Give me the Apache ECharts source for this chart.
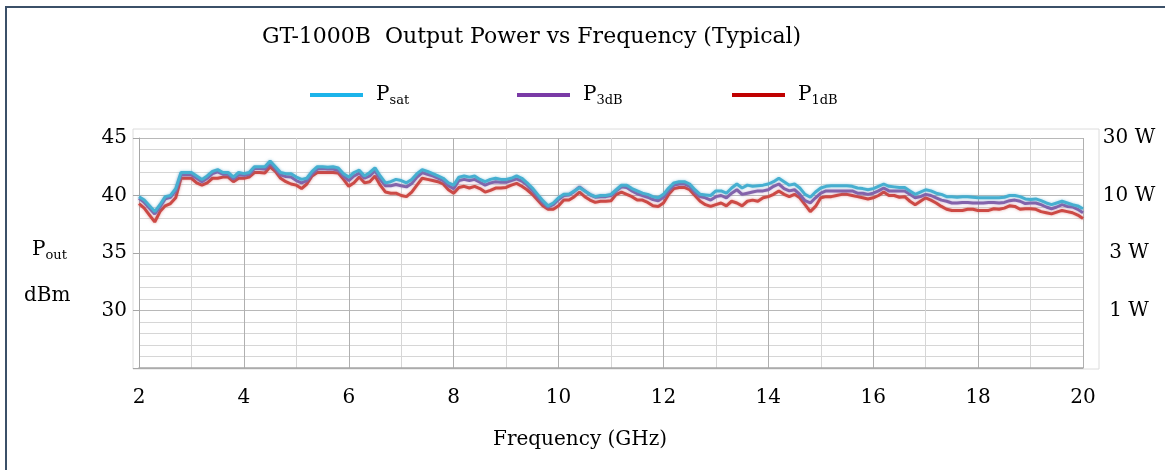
<!DOCTYPE html>
<html>
<head>
<meta charset="utf-8">
<title>GT-1000B Output Power vs Frequency</title>
<script src="https://cdn.jsdelivr.net/npm/echarts@6/dist/echarts.min.js"></script>
<style>
  html, body { margin: 0; padding: 0; background: #fff; }
  #main { width: 1165px; height: 470px; }
</style>
</head>
<body>
<div id="main"></div>
<script>
// frequency samples (GHz), one row per GHz
var freqGHz = [
  2.0, 2.1, 2.2, 2.3, 2.4, 2.5, 2.6, 2.7, 2.8, 2.9,
  3.0, 3.1, 3.2, 3.3, 3.4, 3.5, 3.6, 3.7, 3.8, 3.9,
  4.0, 4.1, 4.2, 4.3, 4.4, 4.5, 4.6, 4.7, 4.8, 4.9,
  5.0, 5.1, 5.2, 5.3, 5.4, 5.5, 5.6, 5.7, 5.8, 5.9,
  6.0, 6.1, 6.2, 6.3, 6.4, 6.5, 6.6, 6.7, 6.8, 6.9,
  7.0, 7.1, 7.2, 7.3, 7.4, 7.5, 7.6, 7.7, 7.8, 7.9,
  8.0, 8.1, 8.2, 8.3, 8.4, 8.5, 8.6, 8.7, 8.8, 8.9,
  9.0, 9.1, 9.2, 9.3, 9.4, 9.5, 9.6, 9.7, 9.8, 9.9,
  10.0, 10.1, 10.2, 10.3, 10.4, 10.5, 10.6, 10.7, 10.8, 10.9,
  11.0, 11.1, 11.2, 11.3, 11.4, 11.5, 11.6, 11.7, 11.8, 11.9,
  12.0, 12.1, 12.2, 12.3, 12.4, 12.5, 12.6, 12.7, 12.8, 12.9,
  13.0, 13.1, 13.2, 13.3, 13.4, 13.5, 13.6, 13.7, 13.8, 13.9,
  14.0, 14.1, 14.2, 14.3, 14.4, 14.5, 14.6, 14.7, 14.8, 14.9,
  15.0, 15.1, 15.2, 15.3, 15.4, 15.5, 15.6, 15.7, 15.8, 15.9,
  16.0, 16.1, 16.2, 16.3, 16.4, 16.5, 16.6, 16.7, 16.8, 16.9,
  17.0, 17.1, 17.2, 17.3, 17.4, 17.5, 17.6, 17.7, 17.8, 17.9,
  18.0, 18.1, 18.2, 18.3, 18.4, 18.5, 18.6, 18.7, 18.8, 18.9,
  19.0, 19.1, 19.2, 19.3, 19.4, 19.5, 19.6, 19.7, 19.8, 19.9,
  20.0
];

// Psat (dBm)
var psat = [
  39.9, 39.6, 39.1, 38.6, 39.2, 39.9, 40.0, 40.6, 42.0, 42.0,
  42.0, 41.7, 41.4, 41.7, 42.1, 42.25, 42.0, 42.0, 41.6, 42.0,
  41.9, 42.0, 42.5, 42.5, 42.5, 43.0, 42.5, 42.0, 41.9, 41.9,
  41.6, 41.4, 41.5, 42.1, 42.5, 42.5, 42.45, 42.5, 42.4, 41.9,
  41.6, 42.0, 42.2, 41.7, 42.0, 42.4, 41.7, 41.1, 41.2, 41.4,
  41.3, 41.1, 41.4, 41.9, 42.25, 42.1, 41.9, 41.7, 41.5, 41.1,
  40.9, 41.6, 41.7, 41.6, 41.7, 41.4, 41.2, 41.4, 41.5, 41.4,
  41.4, 41.5, 41.7, 41.5, 41.1, 40.65, 40.1, 39.55, 39.1, 39.35,
  39.8, 40.1, 40.1, 40.4, 40.7, 40.4, 40.1, 39.9, 40.0, 40.0,
  40.1, 40.5, 40.9, 40.9, 40.6, 40.4, 40.2, 40.1, 39.9, 39.8,
  40.1, 40.65, 41.1, 41.2, 41.2, 41.0, 40.5, 40.1, 40.05, 40.0,
  40.4, 40.4, 40.2, 40.65, 41.0, 40.65, 40.9, 40.8, 40.85, 40.9,
  41.0, 41.2, 41.5, 41.2, 40.9, 41.0, 40.65, 40.1, 39.85, 40.3,
  40.65, 40.8, 40.85, 40.85, 40.85, 40.85, 40.8, 40.65, 40.6, 40.5,
  40.6, 40.8, 41.0, 40.8, 40.75, 40.7, 40.7, 40.4, 40.1, 40.3,
  40.5, 40.4, 40.2, 40.1, 39.9, 39.9, 39.85, 39.9, 39.9, 39.85,
  39.8, 39.8, 39.8, 39.8, 39.8, 39.85, 40.0, 40.0, 39.9, 39.7,
  39.65, 39.7, 39.55, 39.35, 39.2, 39.35, 39.5, 39.35, 39.2, 39.1,
  38.85
];

// P3dB (dBm)
var p3db = [
  39.75, 39.4, 38.9, 38.4, 39.0, 39.7, 39.85, 40.4, 41.8, 41.8,
  41.8, 41.5, 41.2, 41.5, 41.9, 42.05, 41.85, 41.85, 41.45, 41.8,
  41.75, 41.85, 42.35, 42.35, 42.3, 42.85, 42.35, 41.8, 41.65, 41.6,
  41.3, 41.1, 41.3, 41.9, 42.3, 42.35, 42.3, 42.3, 42.2, 41.7,
  41.3, 41.7, 41.95, 41.5, 41.7, 42.15, 41.4, 40.85, 40.85, 40.95,
  40.85, 40.75, 41.05, 41.6, 42.0, 41.85, 41.7, 41.5, 41.3, 40.85,
  40.6, 41.3, 41.4, 41.3, 41.4, 41.15, 40.9, 41.1, 41.2, 41.15,
  41.15, 41.3, 41.45, 41.25, 40.9, 40.45, 39.9, 39.4, 39.0, 39.2,
  39.65, 40.0, 40.05, 40.35, 40.75, 40.4, 40.05, 39.85, 39.9, 39.9,
  40.0, 40.4, 40.75, 40.7, 40.4, 40.15, 40.0, 39.85, 39.65, 39.55,
  39.85, 40.45, 40.9, 41.0, 41.0, 40.8, 40.3, 39.9, 39.8, 39.6,
  39.9, 40.0, 39.8, 40.2, 40.5, 40.1, 40.2, 40.3, 40.4, 40.4,
  40.5, 40.8, 41.0, 40.6, 40.4, 40.5, 40.1, 39.55, 39.35, 39.8,
  40.2, 40.4, 40.4, 40.4, 40.4, 40.4, 40.4, 40.2, 40.2, 40.1,
  40.2, 40.4, 40.65, 40.4, 40.4, 40.4, 40.4, 40.1, 39.8, 39.9,
  40.1, 40.0, 39.8, 39.6, 39.5, 39.35, 39.35, 39.4, 39.4, 39.35,
  39.35, 39.35, 39.4, 39.4, 39.35, 39.4, 39.55, 39.6, 39.5, 39.3,
  39.35, 39.35, 39.2, 39.0, 38.85, 39.0, 39.2, 39.05, 39.0, 38.8,
  38.5
];

// P1dB (dBm)
var p1db = [
  39.3, 38.9, 38.3, 37.7, 38.6, 39.1, 39.3, 39.8, 41.5, 41.5,
  41.5, 41.1, 40.9, 41.1, 41.5, 41.5, 41.6, 41.6, 41.2, 41.5,
  41.5, 41.6, 42.0, 42.0, 41.95, 42.5, 42.1, 41.5, 41.2, 41.0,
  40.9, 40.6, 41.0, 41.7, 42.0, 42.0, 42.0, 42.0, 41.95, 41.4,
  40.8, 41.1, 41.6, 41.1, 41.2, 41.7, 40.9, 40.3, 40.2, 40.2,
  40.0, 39.9, 40.3, 40.9, 41.5, 41.4, 41.3, 41.2, 41.0, 40.5,
  40.2, 40.7, 40.8, 40.65, 40.8, 40.6, 40.3, 40.45, 40.65, 40.65,
  40.7, 40.9, 41.05, 40.8, 40.5, 40.1, 39.6, 39.1, 38.8, 38.8,
  39.1, 39.6, 39.6, 39.9, 40.3, 39.9, 39.6, 39.4, 39.5, 39.5,
  39.55, 40.1, 40.3, 40.1, 39.9, 39.6, 39.6, 39.4, 39.1, 39.05,
  39.35, 40.1, 40.6, 40.7, 40.7, 40.5, 40.0, 39.5, 39.2, 39.05,
  39.2, 39.35, 39.1, 39.5, 39.35, 39.1, 39.5, 39.6, 39.5, 39.8,
  39.9, 40.1, 40.4, 40.1, 39.9, 40.1, 39.8, 39.2, 38.6, 39.05,
  39.8, 39.9, 39.9, 40.0, 40.1, 40.1, 40.0, 39.9, 39.8, 39.7,
  39.8, 40.0, 40.3, 40.0, 40.0, 39.85, 39.9, 39.5, 39.2, 39.5,
  39.8, 39.6, 39.35, 39.05, 38.8, 38.7, 38.7, 38.7, 38.8, 38.8,
  38.7, 38.7, 38.7, 38.85, 38.8, 38.9, 39.1, 39.05, 38.8, 38.85,
  38.85, 38.8, 38.6, 38.5, 38.4, 38.55, 38.7, 38.6, 38.5, 38.3,
  38.0
];

var dbmTicks = [30, 35, 40, 45];
var wattLabels = ['1 W', '3 W', '10 W', '30 W'];

var serif = "'DejaVu Serif', 'Liberation Serif', serif";

function pairs(ys) {
  return freqGHz.map(function (f, i) { return [f, ys[i]]; });
}

function legendFor(name, sub, left, color) {
  return {
    left: left,
    top: 80,
    itemWidth: 53,
    itemHeight: 4,
    icon: 'rect',
    data: [{ name: name, itemStyle: { color: color } }],
    formatter: function () { return '{p|P}{s|' + sub + '}'; },
    textStyle: {
      rich: {
        p: { fontFamily: serif, fontSize: 20, color: '#000', padding: [0, 0, 0, 8] },
        s: { fontFamily: serif, fontSize: 13, color: '#000', padding: [12, 0, 0, 0] }
      }
    },
    selectedMode: false
  };
}

var myChart = echarts.init(document.getElementById('main'), null, { renderer: 'canvas' });

myChart.setOption({
  backgroundColor: '#fff',
  animation: false,
  title: {
    text: 'GT-1000B  Output Power vs Frequency (Typical)',
    left: 257,
    top: 21,
    textStyle: { fontFamily: serif, fontSize: 22, fontWeight: 'normal', color: '#000' }
  },
  legend: [
    legendFor('Psat', 'sat', 305, '#1cb4ea'),
    legendFor('P3dB', '3dB', 512, '#7a3aa6'),
    legendFor('P1dB', '1dB', 727, '#c00000')
  ],
  grid: { left: 139, right: 82, top: 138, bottom: 102 },
  xAxis: {
    type: 'value',
    min: 2,
    max: 20,
    interval: 2,
    axisLine: { show: true, lineStyle: { color: '#a6a6a6', width: 1.5 } },
    axisTick: { show: false },
    axisLabel: { margin: 20, fontFamily: serif, fontSize: 20, color: '#000' },
    splitLine: { show: true, lineStyle: { color: '#b0b0b0', width: 1 } },
    minorTick: { show: false, splitNumber: 2 },
    minorSplitLine: { show: true, lineStyle: { color: '#d6d6d6', width: 1 } }
  },
  yAxis: [
    {
      type: 'value',
      min: 25,
      max: 45,
      interval: 5,
      axisLine: { show: true, lineStyle: { color: '#a6a6a6', width: 1 } },
      axisTick: { show: true, length: 6, lineStyle: { color: '#a6a6a6' } },
      axisLabel: {
        margin: 12,
        fontFamily: serif,
        fontSize: 20,
        color: '#000',
        formatter: function (v) { return dbmTicks.indexOf(v) >= 0 ? String(v) : ''; }
      },
      splitLine: { show: true, lineStyle: { color: '#b8b8b8', width: 1 } },
      minorTick: { show: false, splitNumber: 5 },
      minorSplitLine: { show: true, lineStyle: { color: '#d6d6d6', width: 1 } }
    },
    {
      type: 'value',
      position: 'right',
      min: 25,
      max: 45,
      interval: 5,
      axisLine: { show: false },
      axisTick: { show: false },
      splitLine: { show: false },
      axisLabel: {
        margin: 46,
        align: 'center',
        fontFamily: serif,
        fontSize: 20,
        color: '#000',
        formatter: function (v) {
          var i = dbmTicks.indexOf(v);
          return i >= 0 ? wattLabels[i] : '';
        }
      }
    }
  ],
  graphic: [
    {
      type: 'rect',
      shape: { x: 6, y: 7, width: 1200, height: 520 },
      style: { fill: null, stroke: '#3b5068', lineWidth: 2 },
      silent: true
    },
    {
      type: 'rect',
      shape: { x: 133, y: 129, width: 966, height: 240 },
      style: { fill: null, stroke: '#dcdcdc', lineWidth: 1 },
      silent: true,
      z: -1
    },
    {
      type: 'text',
      left: 32,
      top: 240,
      style: {
        text: '{p|P}{s|out}',
        rich: {
          p: { fontFamily: serif, fontSize: 20, fill: '#000' },
          s: { fontFamily: serif, fontSize: 13, fill: '#000', padding: [12, 0, 0, 0] }
        }
      }
    },
    {
      type: 'text',
      left: 24,
      top: 286,
      style: { text: 'dBm', fontFamily: serif, fontSize: 20, fill: '#000' }
    },
    {
      type: 'text',
      left: 493,
      top: 430,
      style: { text: 'Frequency (GHz)', fontFamily: serif, fontSize: 20, fill: '#000' }
    }
  ],
  series: [
    {
      name: 'Psat',
      type: 'line',
      z: 4,
      showSymbol: false,
      symbol: 'none',
      lineStyle: { color: '#46afd0', width: 3, shadowColor: 'rgba(70,175,208,0.5)', shadowBlur: 3 },
      itemStyle: { color: '#46afd0' },
      data: pairs(psat)
    },
    {
      name: 'P3dB',
      type: 'line',
      z: 3,
      showSymbol: false,
      symbol: 'none',
      lineStyle: { color: '#8463ab', width: 3, shadowColor: 'rgba(132,99,171,0.5)', shadowBlur: 3 },
      itemStyle: { color: '#8463ab' },
      data: pairs(p3db)
    },
    {
      name: 'P1dB',
      type: 'line',
      z: 2,
      showSymbol: false,
      symbol: 'none',
      lineStyle: { color: '#cd4a45', width: 3, shadowColor: 'rgba(205,74,69,0.5)', shadowBlur: 3 },
      itemStyle: { color: '#cd4a45' },
      data: pairs(p1db)
    }
  ]
});
</script>
</body>
</html>
